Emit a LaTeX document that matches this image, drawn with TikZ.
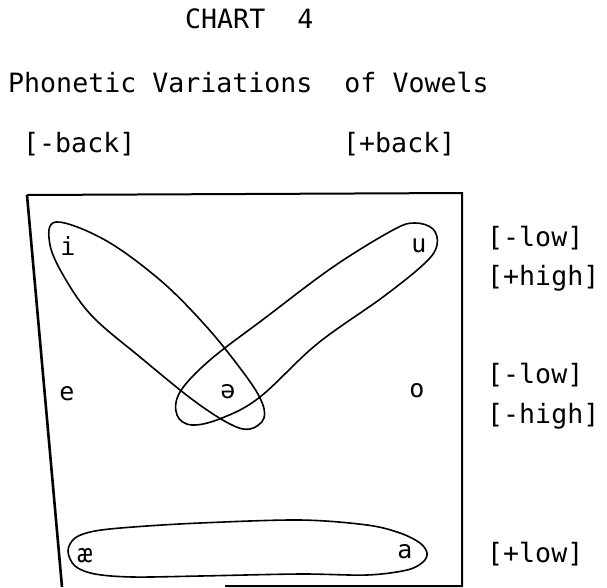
\documentclass[tikz,border=0pt]{standalone}
\usepackage{fontspec}
\setmonofont{DejaVu Sans Mono}
\begin{document}
\begin{tikzpicture}[x=1pt,y=-1pt,
  lbl/.style={font=\ttfamily\fontsize{26.6}{30}\selectfont, anchor=base west, inner sep=0pt},
  vow/.style={font=\ttfamily\fontsize{25}{28}\selectfont, anchor=base, inner sep=0pt},
  edge/.style={line width=2pt},
  loopline/.style={line width=1.6pt}]
\useasboundingbox (0,0) rectangle (607,587);
% titles
\node[lbl] (title) at (185,28) {CHART\ \ 4};
\node[lbl] (sub) at (8,92) {Phonetic Variations\ \ of Vowels};
\node[lbl] (mback) at (23,152) {[-back]};
\node[lbl] (pback) at (343,152) {[+back]};
% right labels
\node[lbl] (r1) at (487,246) {[-low]};
\node[lbl] (r2) at (487,285) {[+high]};
\node[lbl] (r3) at (487,383) {[-low]};
\node[lbl] (r4) at (487,423) {[-high]};
\node[lbl] (r5) at (487,562) {[+low]};
% frame
\coordinate (tl) at (27,195);
\coordinate (tr) at (462,193);
\coordinate (br) at (462,586);
\coordinate (bl) at (62,587);
\coordinate (bm) at (225,586);
\draw[line width=2.6pt] (bl) -- (tl);
\draw[edge] (tl) -- (tr) -- (br) -- (bm);
% vowels
\node[vow] (i) at (68,255) {i};
\node[vow] (u) at (419,252) {u};
\node[vow] (e) at (67,400) {e};
\node[vow] (schwa) at (228,398) {ə};
\node[vow] (o) at (417,397) {o};
\node[vow] (ae) at (85,562) {æ};
\node[vow] (a) at (405,558) {a};
% loops
\draw[loopline] plot[smooth cycle, tension=0.6] coordinates {
 (56,222) (105,240) (160,280) (205,325) (240,368) (260,398) (264,418) (250,429)
 (230,424) (193,400) (140,357) (93,317) (66,280) (50,245)};
\draw[loopline] plot[smooth cycle, tension=0.6] coordinates {
 (415,223) (433,229) (437,245) (425,263) (383,297) (317,344) (260,397) (222,418)
 (192,425) (177,415) (180,392) (210,360) (265,318) (333,267) (393,230)};
\draw[loopline] plot[smooth cycle, tension=0.55] coordinates {
 (68,551) (75,538) (95,531) (133,527) (200,523) (300,520) (367,525) (400,533)
 (420,543) (427,553) (423,562) (407,570) (367,575) (300,574) (200,576) (133,577)
 (95,574) (75,566)};
\end{tikzpicture}
\end{document}
